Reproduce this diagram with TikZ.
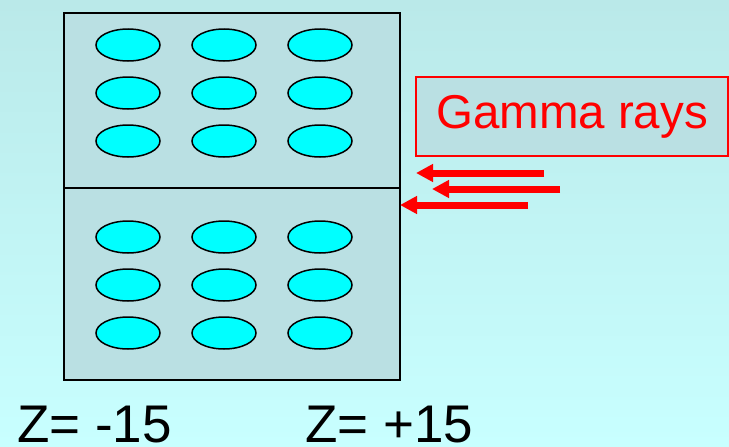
\documentclass[tikz,border=0pt]{standalone}
\usepackage{fontspec}
\setmainfont{Liberation Sans}
\usetikzlibrary{arrows.meta,shapes.geometric}
\definecolor{bgtop}{RGB}{186,233,233}
\definecolor{bgbot}{RGB}{200,255,255}
\definecolor{boxfill}{RGB}{186,224,227}
\definecolor{cellfill}{RGB}{0,255,255}
\tikzset{
  cell/.style={ellipse, draw=black, line width=1.5pt, fill=cellfill, minimum width=64pt, minimum height=32pt, inner sep=0pt},
  panel/.style={draw=black, line width=1.5pt, fill=boxfill},
  ray/.style={draw=red, line width=7pt, -{Triangle[length=17pt,width=17pt]}},
  lbl/.style={font=\fontsize{53}{53}\selectfont, anchor=base west, inner sep=0pt, text depth=0pt},
}
\begin{document}
\begin{tikzpicture}[x=1pt,y=-1pt]
\shade[top color=bgtop, bottom color=bgbot] (0,0) rectangle (729,447);
\useasboundingbox (0,0) rectangle (729,447);
\draw[panel] (64,13) rectangle (400,188);
\draw[panel] (64,188) rectangle (400,380);
\foreach \r/\y in {1/45,2/93,3/141,4/237,5/285,6/333}{
  \foreach \c/\x in {1/128,2/224,3/320}{
    \node[cell] (e\r\c) at (\x,\y) {};
  }
}
\node[draw=red, line width=2pt, fill=boxfill, minimum width=312pt, minimum height=79pt, inner sep=0pt,
      text=red, font=\fontsize{47.5}{47.5}\selectfont] (gamma) at (572,116.5) {Gamma rays};
\coordinate (t1) at (544,173);
\coordinate (h1) at (416,173);
\coordinate (t2) at (560,189);
\coordinate (h2) at (432,189);
\coordinate (t3) at (528,205);
\coordinate (h3) at (400,205);
\draw[ray] (t1) -- (h1);
\draw[ray] (t2) -- (h2);
\draw[ray] (t3) -- (h3);
\node[lbl] (zl) at (17,442) {Z= -15};
\node[lbl] (zr) at (305,442) {Z= +15};
\end{tikzpicture}
\end{document}
